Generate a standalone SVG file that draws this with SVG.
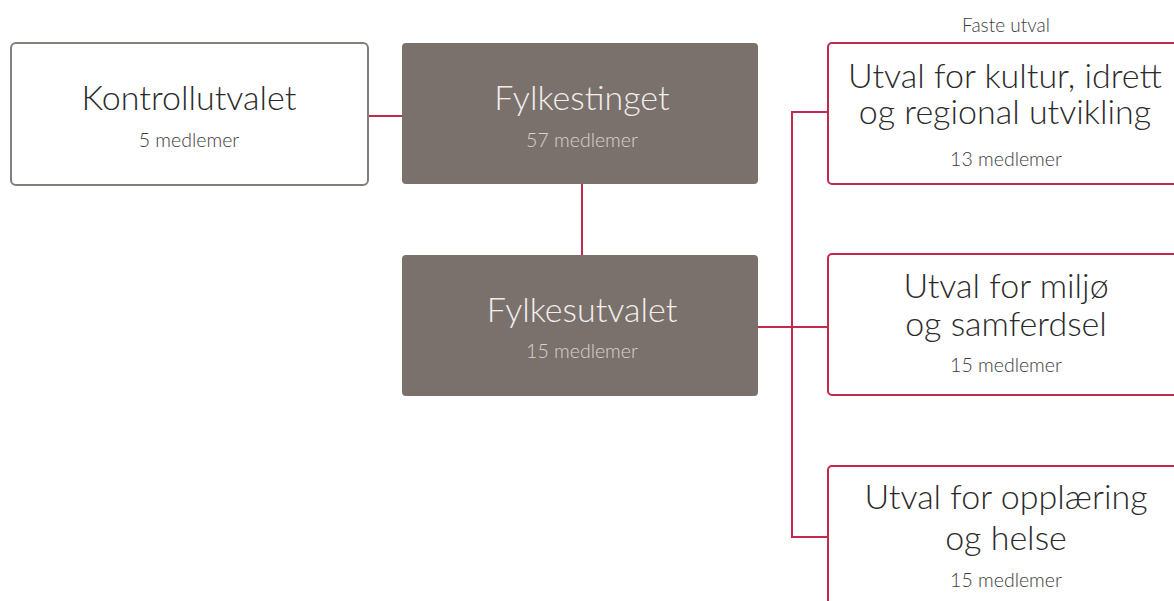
<svg xmlns="http://www.w3.org/2000/svg" width="1174" height="601" viewBox="0 0 1174 601">
<style>
.bg{fill:#ffffff}
.white{fill:#ffffff;stroke:#857d79;stroke-width:2}
.dark{fill:#7a716c}
.red{fill:#ffffff;stroke:#c3294d;stroke-width:2}
.line{stroke:#c3294d;stroke-width:2;fill:none}
.t{font-family:Lato,"Open Sans","Liberation Sans",sans-serif;font-weight:300;font-size:34px;text-anchor:middle}
.s{font-family:Lato,"Open Sans","Liberation Sans",sans-serif;font-weight:300;font-size:19.5px;text-anchor:middle}
.dk{fill:#2a2a2a}
.dks{fill:#3c3c3c}
.lt{fill:#f2eeec}
.lts{fill:#d8d2ce}
</style>
<rect class="bg" x="0" y="0" width="1174" height="601"/>
<g id="connectors">
<line class="line" x1="368" y1="116" x2="402" y2="116"/>
<line class="line" x1="582" y1="184" x2="582" y2="255"/>
<line class="line" x1="758" y1="327" x2="828" y2="327"/>
<polyline class="line" points="828,112 792,112 792,537 828,537"/>
</g>
<g id="kontrollutvalet">
<rect class="white" x="11" y="43" width="357" height="142" rx="5"/>
<text class="t dk" x="189" y="110">Kontrollutvalet</text>
<text class="s dks" x="189" y="147">5 medlemer</text>
</g>
<g id="fylkestinget">
<rect class="dark" x="402" y="43" width="356" height="141" rx="4"/>
<text class="t lt" x="582" y="110">Fylkestinget</text>
<text class="s lts" x="582" y="147">57 medlemer</text>
</g>
<g id="fylkesutvalet">
<rect class="dark" x="402" y="255" width="356" height="141" rx="4"/>
<text class="t lt" x="582" y="322">Fylkesutvalet</text>
<text class="s lts" x="582" y="358">15 medlemer</text>
</g>
<text class="s dks" x="1006" y="32" style="font-size:19px">Faste utval</text>
<g id="kultur">
<rect class="red" x="828" y="43" width="370" height="141" rx="4"/>
<text class="t dk" x="1005" y="88">Utval for kultur, idrett</text>
<text class="t dk" x="1005" y="124">og regional utvikling</text>
<text class="s dks" x="1006" y="166">13 medlemer</text>
</g>
<g id="miljo">
<rect class="red" x="828" y="254" width="370" height="141" rx="4"/>
<text class="t dk" x="1006" y="298">Utval for miljø</text>
<text class="t dk" x="1006" y="336">og samferdsel</text>
<text class="s dks" x="1006" y="372">15 medlemer</text>
</g>
<g id="opplaering">
<rect class="red" x="828" y="466" width="370" height="160" rx="4"/>
<text class="t dk" x="1006" y="509">Utval for opplæring</text>
<text class="t dk" x="1006" y="550">og helse</text>
<text class="s dks" x="1006" y="587">15 medlemer</text>
</g>
</svg>
